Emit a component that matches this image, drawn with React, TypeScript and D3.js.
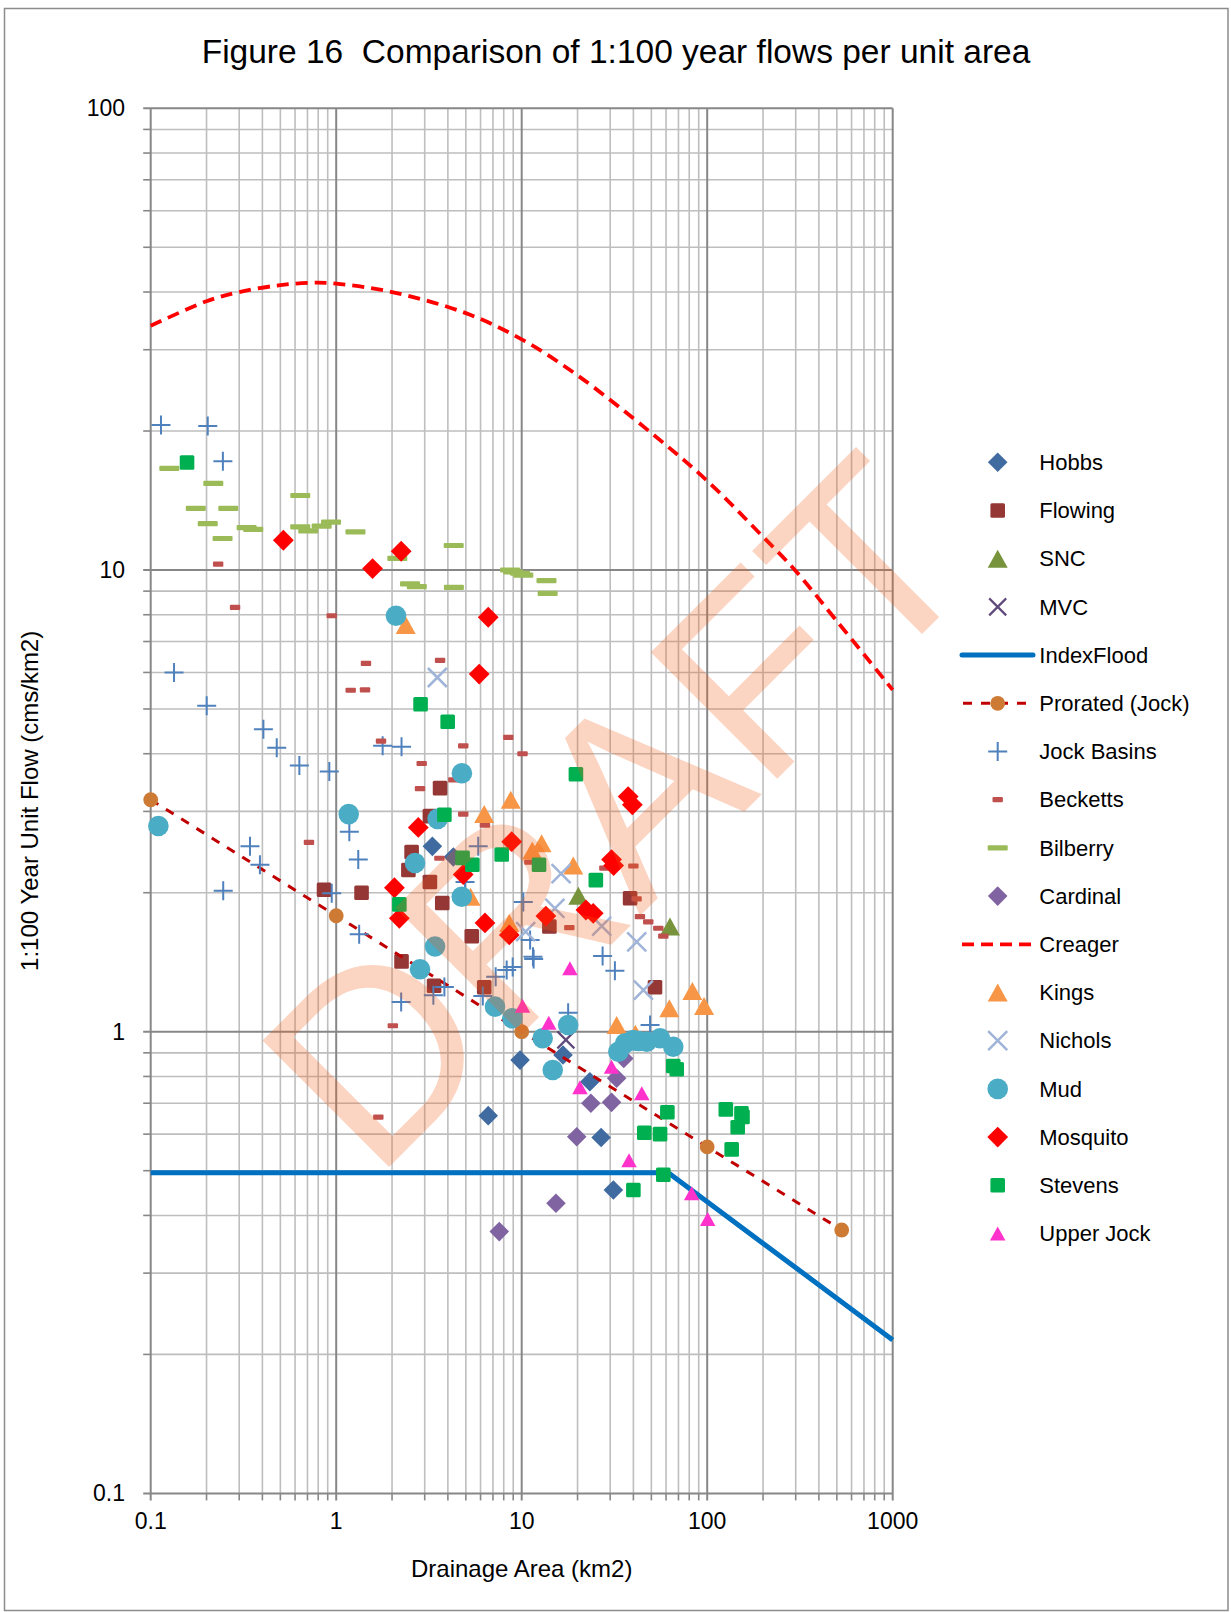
import React from "react";
import * as d3 from "d3";

type P = [number, number];

const hobbs: P[] = [[3.3,2.52],[4.28,2.39],[9.8,0.868],[16.7,0.89],[23.3,0.779],[6.6,0.658],[26.8,0.59],[31.2,0.454]];
const flowing: P[] = [[3.63,3.37],[3.2,2.93],[2.55,2.45],[2.45,2.24],[3.2,2.11],[0.86,2.03],[1.37,2.0],[3.73,1.9],[5.38,1.61],[2.25,1.42],[3.37,1.258],[6.28,1.248],[14.1,1.69],[38.4,1.945],[52.3,1.248]];
const snc: P[] = [[20.2,1.97],[63,1.69]];
const mvc: P[] = [[17.3,0.96]];
const indexFlood: P[] = [[0.1,0.495],[61.7,0.495],[1000,0.215]];
const prorated: P[] = [[0.1,3.18],[1,1.783],[10,1.0],[100,0.563],[531,0.372]];
const jockBasins: P[] = [[0.1136,20.6],[0.203,20.5],[0.245,17.2],[0.1336,6.0],[0.2004,5.08],[0.405,4.52],[0.478,4.12],[0.633,3.77],[0.918,3.66],[1.78,4.16],[2.25,4.14],[1.177,2.71],[1.315,2.36],[0.343,2.52],[0.388,2.3],[0.246,2.02],[0.946,1.995],[5.83,2.52],[4.95,2.11],[1.33,1.625],[2.24,1.16],[3.34,1.2],[3.83,1.25],[7.24,1.316],[8.3,1.36],[8.94,1.38],[6.17,1.195],[10.2,1.91],[11.1,1.58],[11.5,1.454],[11.6,1.437],[27.3,1.459],[31.8,1.355],[17.8,1.099],[49.2,1.034]];
const becketts: P[] = [[0.231,10.3],[0.285,8.3],[0.946,7.96],[1.447,6.28],[1.197,5.49],[1.43,5.5],[3.63,6.37],[1.744,4.26],[4.84,4.16],[2.89,3.81],[8.47,4.34],[10.1,4.0],[2.83,3.36],[4.28,3.51],[4.84,2.96],[6.34,2.8],[0.713,2.57],[3.6,2.375],[40,2.285],[27.9,2.26],[11.0,2.33],[41.6,1.94],[43.4,1.775],[48.1,1.73],[54.5,1.675],[58,1.61],[18.06,1.68],[2.02,1.03],[1.687,0.653]];
const bilberry: P[] = [[0.126,16.6],[0.2175,15.4],[0.175,13.6],[0.262,13.6],[0.203,12.6],[0.329,12.35],[0.357,12.25],[0.244,11.7],[0.64,14.5],[0.64,12.4],[0.707,12.15],[0.835,12.45],[0.938,12.7],[1.27,12.1],[4.3,11.3],[2.135,10.6],[2.5,9.33],[2.72,9.2],[4.31,9.17],[8.65,10.0],[9.0,9.9],[9.8,9.84],[10.2,9.75],[13.6,9.48],[13.8,8.9]];
const cardinal: P[] = [[7.57,0.369],[15.3,0.425],[19.8,0.592],[23.6,0.7],[30.5,0.703],[32.5,0.793],[35.5,0.875]];
const creager: P[] = [[0.1,33.8],[0.2,38.2],[0.3,40.0],[0.5,41.4],[0.75,41.9],[1,41.7],[2,40.0],[5,36.0],[10,31.6],[20,26.4],[50,19.8],[100,15.6],[200,11.8],[300,9.95],[500,7.75],[1000,5.5]];
const kings: P[] = [[2.37,7.6],[6.28,2.96],[8.73,3.18],[11.4,2.47],[12.8,2.56],[18.97,2.29],[8.57,1.72],[5.3,1.96],[32.5,1.034],[41,0.99],[62.5,1.124],[83.2,1.225],[96.2,1.137]];
const nichols: P[] = [[3.51,5.85],[16.3,2.2],[15.1,1.85],[10.5,1.647],[27,1.694],[41.7,1.566],[45.3,1.231]];
const mud: P[] = [[0.11,2.79],[1.168,2.96],[2.1,7.96],[4.76,3.63],[3.52,2.89],[2.66,2.32],[4.75,1.96],[3.41,1.53],[2.83,1.365],[7.18,1.133],[8.9,1.069],[12.97,0.968],[17.8,1.034],[14.7,0.826],[33.2,0.905],[36.1,0.944],[40,0.959],[42.5,0.955],[47.2,0.951],[55.7,0.968],[65.6,0.928]];
const mosquito: P[] = [[0.519,11.6],[1.57,10.07],[2.24,10.98],[6.6,7.9],[5.9,5.95],[37.5,3.23],[39.5,3.1],[8.83,2.58],[30.5,2.36],[31.3,2.29],[2.77,2.77],[4.84,2.19],[2.06,2.05],[2.19,1.76],[6.34,1.72],[8.57,1.62],[13.5,1.78],[22.2,1.835],[24.3,1.805]];
const stevens: P[] = [[0.157,17.1],[2.85,5.12],[3.99,4.69],[3.83,2.95],[7.8,2.42],[4.8,2.38],[5.42,2.3],[2.19,1.887],[12.4,2.3],[19.6,3.61],[25.1,2.13],[65.6,0.843],[68.5,0.829],[126,0.679],[153,0.666],[155,0.654],[146,0.621],[135.5,0.556],[61,0.669],[45.8,0.604],[55.7,0.6],[58,0.49],[40,0.454]];
const upperJock: P[] = [[10.1,1.138],[18.2,1.372],[14.0,1.046],[30.5,0.84],[20.6,0.758],[44.4,0.736],[37.9,0.527],[82.5,0.447],[100.6,0.393]];

const xTicks = [0.1, 1, 10, 100, 1000];
const yTicks = [0.1, 1, 10, 100];
const xTickLabels = ["0.1", "1", "10", "100", "1000"];
const yTickLabels = ["0.1", "1", "10", "100"];

const TITLE = "Figure 16  Comparison of 1:100 year flows per unit area";
const X_LABEL = "Drainage Area (km2)";
const Y_LABEL = "1:100 Year Unit Flow (cms/km2)";

type Series = { name: string; data: P[]; kind: string; color: string; line?: string };

const seriesList: Series[] = [
  { name: "Hobbs", data: hobbs, kind: "diamond", color: "#3F6BA0" },
  { name: "Flowing", data: flowing, kind: "square", color: "#953735" },
  { name: "SNC", data: snc, kind: "triangle", color: "#77933C" },
  { name: "MVC", data: mvc, kind: "x", color: "#604A7B" },
  { name: "IndexFlood", data: indexFlood, kind: "solidLine", color: "#0070C0" },
  { name: "Prorated (Jock)", data: prorated, kind: "dotLine", color: "#CC7A34", line: "#C00000" },
  { name: "Jock Basins", data: jockBasins, kind: "plus", color: "#4F81BD" },
  { name: "Becketts", data: becketts, kind: "dash", color: "#C0504D" },
  { name: "Bilberry", data: bilberry, kind: "longdash", color: "#9BBB59" },
  { name: "Cardinal", data: cardinal, kind: "diamond", color: "#8064A2" },
  { name: "Creager", data: creager, kind: "dashLine", color: "#FF0000" },
  { name: "Kings", data: kings, kind: "triangle", color: "#F79646" },
  { name: "Nichols", data: nichols, kind: "xlight", color: "#9FB4D8" },
  { name: "Mud", data: mud, kind: "circle", color: "#4BACC6" },
  { name: "Mosquito", data: mosquito, kind: "diamondBig", color: "#FF0000" },
  { name: "Stevens", data: stevens, kind: "square", color: "#00B050" },
  { name: "Upper Jock", data: upperJock, kind: "smallTriangle", color: "#FF33CC" },
];

const FONT = "'Liberation Sans', Arial, sans-serif";

const X0 = 150.7, X1 = 892.7, Y0 = 1493.4, Y1 = 108.3;
const xs = d3.scaleLog().domain([0.1, 1000]).range([X0, X1]);
const ys = d3.scaleLog().domain([0.1, 100]).range([Y0, Y1]);

function Marker({ kind, x, y, color }: { kind: string; x: number; y: number; color: string }) {
  switch (kind) {
    case "diamond": {
      const r = 9.8;
      return <polygon points={`${x},${y - r} ${x + r},${y} ${x},${y + r} ${x - r},${y}`} fill={color} />;
    }
    case "diamondBig": {
      const r = 10.4;
      return <polygon points={`${x},${y - r} ${x + r},${y} ${x},${y + r} ${x - r},${y}`} fill={color} />;
    }
    case "square": {
      const s = 14.6;
      return <rect x={x - s / 2} y={y - s / 2} width={s} height={s} rx={1.5} fill={color} />;
    }
    case "triangle": {
      const w = 20, h = 18;
      return <polygon points={`${x},${y - h / 2} ${x + w / 2},${y + h / 2} ${x - w / 2},${y + h / 2}`} fill={color} />;
    }
    case "smallTriangle": {
      const w = 15.5, h = 14;
      return <polygon points={`${x},${y - h / 2} ${x + w / 2},${y + h / 2} ${x - w / 2},${y + h / 2}`} fill={color} />;
    }
    case "x": {
      const r = 8.5;
      return <path d={`M${x - r},${y - r}L${x + r},${y + r}M${x - r},${y + r}L${x + r},${y - r}`} stroke={color} strokeWidth={2.2} fill="none" />;
    }
    case "xlight": {
      const r = 9.5;
      return <path d={`M${x - r},${y - r}L${x + r},${y + r}M${x - r},${y + r}L${x + r},${y - r}`} stroke={color} strokeWidth={2.5} fill="none" />;
    }
    case "plus": {
      const r = 9.5;
      return <path d={`M${x - r},${y}L${x + r},${y}M${x},${y - r}L${x},${y + r}`} stroke={color} strokeWidth={2} fill="none" />;
    }
    case "dash":
      return <rect x={x - 5.2} y={y - 2.6} width={10.4} height={5.2} rx={1} fill={color} />;
    case "longdash":
      return <rect x={x - 10} y={y - 2.6} width={20} height={5.2} rx={1} fill={color} />;
    case "circle":
      return <circle cx={x} cy={y} r={10.3} fill={color} />;
    case "dot":
      return <circle cx={x} cy={y} r={7.4} fill={color} />;
    default:
      return null;
  }
}

export default function App() {
  const minorX: number[] = [];
  const majorX: number[] = [];
  for (const d of [0.1, 1, 10, 100]) {
    majorX.push(d);
    for (let k = 2; k <= 9; k++) minorX.push(d * k);
  }
  majorX.push(1000);
  const minorY: number[] = [];
  const majorY: number[] = [];
  for (const d of [0.1, 1, 10]) {
    majorY.push(d);
    for (let k = 2; k <= 9; k++) minorY.push(d * k);
  }
  majorY.push(100);

  const line = d3.line<P>().x((d) => xs(d[0])).y((d) => ys(d[1]));
  const curve = d3.line<P>().x((d) => xs(d[0])).y((d) => ys(d[1])).curve(d3.curveCatmullRom.alpha(0.5));

  const legX = 997.7, legY0 = 462.3, legDY = 48.2, legText = 1039.3;

  const renderSeries = (s: Series, i: number) => {
    if (s.kind === "solidLine") {
      return <path key={i} d={line(s.data) || ""} stroke={s.color} strokeWidth={5} fill="none" />;
    }
    if (s.kind === "dashLine") {
      return <path key={i} d={curve(s.data) || ""} stroke={s.color} strokeWidth={3.8} strokeDasharray="12 7" fill="none" />;
    }
    if (s.kind === "dotLine") {
      return (
        <g key={i}>
          <path d={line(s.data) || ""} stroke={s.line} strokeWidth={3} strokeDasharray="9 9" fill="none" />
          {s.data.map((d, j) => <Marker key={j} kind="dot" x={xs(d[0])} y={ys(d[1])} color={s.color} />)}
        </g>
      );
    }
    return (
      <g key={i}>
        {s.data.map((d, j) => <Marker key={j} kind={s.kind} x={xs(d[0])} y={ys(d[1])} color={s.color} />)}
      </g>
    );
  };

  const renderLegend = (s: Series, i: number) => {
    const y = legY0 + i * legDY;
    let mark: React.ReactNode;
    if (s.kind === "solidLine") {
      mark = <line x1={962} x2={1033} y1={y} y2={y} stroke={s.color} strokeWidth={5} strokeLinecap="round" />;
    } else if (s.kind === "dashLine") {
      mark = <line x1={962} x2={1033} y1={y} y2={y} stroke={s.color} strokeWidth={3.8} strokeDasharray="12 7" />;
    } else if (s.kind === "dotLine") {
      mark = (
        <g>
          <line x1={963} x2={1030} y1={y} y2={y} stroke={s.line} strokeWidth={3} strokeDasharray="9 9" />
          <Marker kind="dot" x={legX} y={y} color={s.color} />
        </g>
      );
    } else {
      mark = <Marker kind={s.kind} x={legX} y={y} color={s.color} />;
    }
    return (
      <g key={i}>
        {mark}
        <text x={legText} y={y + 7.7} fontSize={22} fill="#000">{s.name}</text>
      </g>
    );
  };

  return (
    <svg width={1231} height={1612} style={{ position: "absolute", left: 0, top: 0, display: "block" }} fontFamily={FONT}>
      <rect x={0} y={0} width={1231} height={1612} fill="#fff" />
      <rect x={4.5} y={8.5} width={1223.5} height={1602} fill="#fff" stroke="#8C8C8C" strokeWidth={1.5} />
      <text x={616} y={63} fontSize={33.5} textAnchor="middle" fill="#000" xmlSpace="preserve" style={{ whiteSpace: "pre" }}>{TITLE}</text>

      {minorY.map((v, i) => (
        <g key={"my" + i}>
          <line x1={X0} x2={X1} y1={ys(v)} y2={ys(v)} stroke="#BEBEBE" strokeWidth={1.6} />
          <line x1={X0 - 7.5} x2={X0} y1={ys(v)} y2={ys(v)} stroke="#878787" strokeWidth={1.6} />
        </g>
      ))}
      {minorX.map((v, i) => (
        <g key={"mx" + i}>
          <line x1={xs(v)} x2={xs(v)} y1={Y1} y2={Y0} stroke="#BEBEBE" strokeWidth={1.6} />
          <line x1={xs(v)} x2={xs(v)} y1={Y0} y2={Y0 + 7} stroke="#878787" strokeWidth={1.6} />
        </g>
      ))}
      {majorY.map((v, i) => (
        <g key={"My" + i}>
          <line x1={X0 - 7.5} x2={X1} y1={ys(v)} y2={ys(v)} stroke="#878787" strokeWidth={2} />
        </g>
      ))}
      {majorX.map((v, i) => (
        <g key={"Mx" + i}>
          <line x1={xs(v)} x2={xs(v)} y1={Y1} y2={Y0 + 7} stroke="#878787" strokeWidth={2} />
        </g>
      ))}

      {yTicks.map((v, i) => (
        <text key={"yt" + i} x={125} y={ys(v) + 8} fontSize={23} textAnchor="end" fill="#000">{yTickLabels[i]}</text>
      ))}
      {xTicks.map((v, i) => (
        <text key={"xt" + i} x={xs(v)} y={1529} fontSize={23} textAnchor="middle" fill="#000">{xTickLabels[i]}</text>
      ))}
      <text x={(X0 + X1) / 2} y={1577} fontSize={24} textAnchor="middle" fill="#000">{X_LABEL}</text>
      <text transform={`translate(38,${(Y0 + Y1) / 2}) rotate(-90)`} fontSize={24} textAnchor="middle" fill="#000">{Y_LABEL}</text>

      {seriesList.map(renderSeries)}

      {seriesList.map(renderLegend)}

      <text transform="translate(374,1182) rotate(-45)" fontSize={260} fill="#F45A14" fillOpacity={0.26} fontFamily={FONT}>DRAFT</text>
    </svg>
  );
}
